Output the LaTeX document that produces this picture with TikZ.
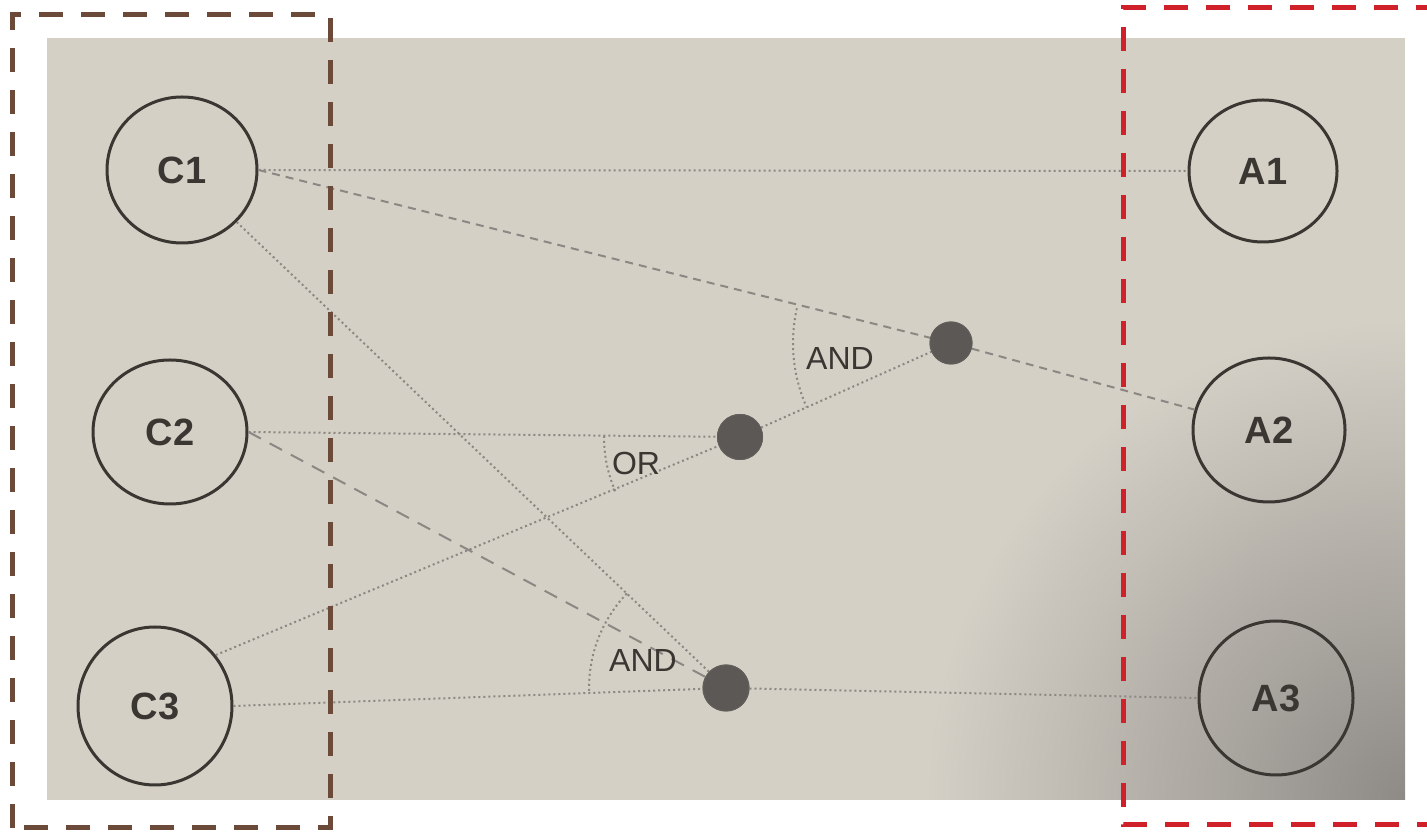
\documentclass[tikz,border=0pt]{standalone}
\usepackage{fontspec}
\setmainfont{Liberation Sans}
\usetikzlibrary{shapes.geometric,angles}
\definecolor{paper}{HTML}{D5D0C6}
\definecolor{paperdark}{HTML}{8E8B87}
\definecolor{ink}{HTML}{3A3632}
\definecolor{pencil}{HTML}{8C8782}
\definecolor{boxbrown}{HTML}{6B4A3A}
\definecolor{boxred}{HTML}{D0202A}
\definecolor{dotfill}{HTML}{5C5855}
\tikzset{
  state/.style={ellipse, draw=ink, line width=3pt, fill=none, inner sep=0pt, font=\bfseries\fontsize{38}{40}\selectfont, text=ink},
  junction/.style={circle, fill=dotfill, draw=ink!80, line width=1pt, inner sep=0pt},
  link/.style={draw=pencil, line width=2pt, dash pattern=on 2pt off 3pt},
  dashlink/.style={draw=pencil, line width=2pt, dash pattern=on 8pt off 6pt},
  longlink/.style={draw=pencil, line width=2pt, dash pattern=on 14pt off 10pt},
  gatearc/.style={draw=pencil, line width=2pt, dash pattern=on 2pt off 3pt},
  gatelabel/.style={font=\fontsize{32}{34}\selectfont, text=ink, inner sep=0pt},
  framebox/.style={line width=5pt, dash pattern=on 24pt off 18pt}
}
\begin{document}
\begin{tikzpicture}[x=1pt,y=1pt]
\useasboundingbox (0,0) rectangle (1427,832);
% photo background
\fill[paper] (47,32) rectangle (1405,794);
\begin{scope}
\clip (47,32) rectangle (1405,794);
\shade[inner color=paperdark, outer color=paper] (1405,32) circle (480);
\end{scope}
% nodes
\node[state, minimum width=150pt, minimum height=146pt] (C1) at (182,662) {C1};
\node[state, minimum width=154pt, minimum height=144pt] (C2) at (170,400) {C2};
\node[state, minimum width=154pt, minimum height=158pt] (C3) at (155,126) {C3};
\node[state, minimum width=148pt, minimum height=142pt] (A1) at (1263,661) {A1};
\node[state, minimum width=152pt, minimum height=144pt] (A2) at (1269,402) {A2};
\node[state, minimum width=154pt, minimum height=154pt] (A3) at (1276,134) {A3};
\node[junction, minimum size=42pt] (D1) at (951,489) {};
\node[junction, minimum size=45pt] (D2) at (740,395) {};
\node[junction, minimum size=46pt] (D3) at (726,144) {};
% connectors
\draw[link] (C1.east) -- (A1.west);
\draw[dashlink] (C1.east) -- (D1) -- (A2);
\draw[link] (C1) -- (D3);
\draw[link] (C2.east) -- (D2);
\draw[longlink] (C2.east) -- (D3);
\draw[link] (C3.40) -- (D2) -- (D1);
\draw[link] (C3.east) -- (D3) -- (A3.west);
% gate arcs
\pic[gatearc, angle radius=158pt] {angle=C1--D1--D2};
\pic[gatearc, angle radius=136pt] {angle=C2--D2--C3};
\pic[gatearc, angle radius=137pt] {angle=C1--D3--C3};
\node[gatelabel] (g1) at (840,474) {AND};
\node[gatelabel] (g2) at (636,369) {OR};
\node[gatelabel] (g3) at (643,172) {AND};
% redraw dots on top
\node[junction, minimum size=42pt] at (D1) {};
\node[junction, minimum size=45pt] at (D2) {};
\node[junction, minimum size=46pt] at (D3) {};
% frames
\draw[framebox, draw=boxbrown] (12,4) rectangle (330,817);
\draw[framebox, draw=boxred] (1440,824) -- (1123,824) -- (1123,7) -- (1440,7);
\end{tikzpicture}
\end{document}
